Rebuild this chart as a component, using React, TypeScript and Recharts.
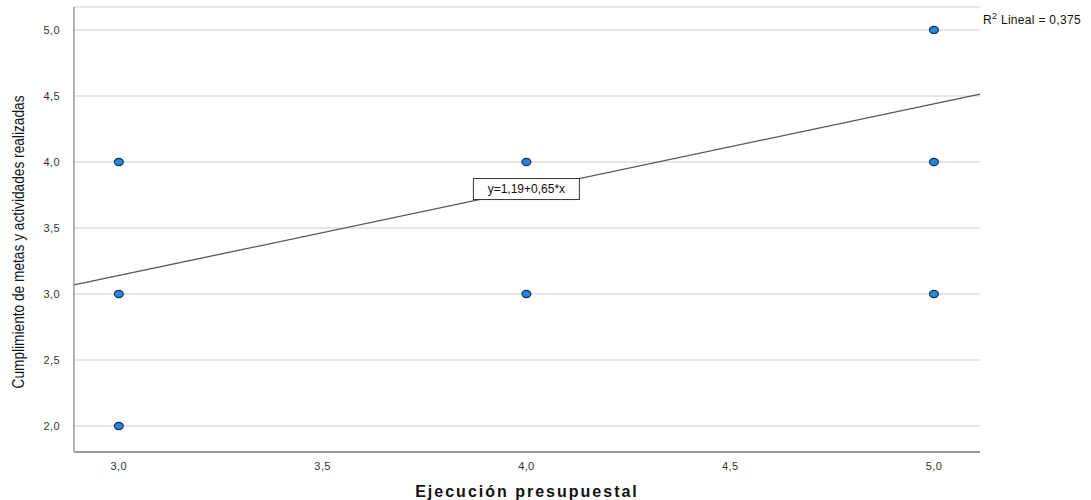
import React from 'react';
import { ScatterChart, Scatter, XAxis, YAxis, CartesianGrid, ReferenceLine, ReferenceDot } from 'recharts';

const xValues = [3, 3, 3, 4, 4, 5, 5, 5];
const yValues = [4, 3, 2, 4, 3, 5, 4, 3];
const xTicks = [3, 3.5, 4, 4.5, 5];
const yTicks = [2, 2.5, 3, 3.5, 4, 4.5, 5];
const intercept = 1.19;
const slope = 0.65;
const rSquared = '0,375';
const xDomain: [number, number] = [2.89, 5.113];
const yDomain: [number, number] = [1.803, 5.174];

const points = xValues.map((x, i) => ({ x, y: yValues[i] }));
const fmt = (v: number) => v.toFixed(1).replace('.', ',');

const Dot = (props: any) => {
  const { cx, cy } = props;
  return <ellipse cx={cx} cy={cy} rx={4.5} ry={3.6} fill="#1e88dc" stroke="#1b2a44" strokeWidth={1.1} />;
};

const EqLabel = (props: any) => {
  const { cx, cy } = props;
  return (
    <g>
      <rect x={cx - 53} y={cy - 10.5} width={106} height={21} fill="#ffffff" stroke="#333" strokeWidth={1} />
      <text x={cx} y={cy + 4} textAnchor="middle" fontFamily="Arial, 'Liberation Sans', sans-serif" fontSize={12} fill="#111">
        y=1,19+0,65*x
      </text>
    </g>
  );
};

export default function App() {
  return (
    <div style={{ position: 'absolute', left: 0, top: 0, width: 1091, height: 500, background: '#fff' }}>
      <ScatterChart width={1091} height={500} margin={{ top: 7, right: 111, left: 0, bottom: 0 }}>
        <CartesianGrid vertical={false} stroke="#cfcfcf" strokeWidth={1} />
        <XAxis
          type="number"
          dataKey="x"
          domain={xDomain}
          ticks={xTicks}
          tickFormatter={fmt}
          height={48}
          tickLine={false}
          axisLine={{ stroke: '#9a9a9a', strokeWidth: 2 }}
          tick={{ fontSize: 11, fill: '#333', fontFamily: 'Arial, "Liberation Sans", sans-serif', letterSpacing: 0.4 }}
          tickMargin={4}
          allowDataOverflow
        />
        <YAxis
          type="number"
          dataKey="y"
          domain={yDomain}
          ticks={yTicks}
          tickFormatter={fmt}
          width={74}
          tickLine={false}
          axisLine={{ stroke: '#9a9a9a', strokeWidth: 1.5 }}
          tick={{ fontSize: 11, fill: '#333', fontFamily: 'Arial, "Liberation Sans", sans-serif', letterSpacing: 0.4 }}
          tickMargin={8}
          allowDataOverflow
        />
        <ReferenceLine
          segment={[
            { x: xDomain[0], y: intercept + slope * xDomain[0] },
            { x: xDomain[1], y: intercept + slope * xDomain[1] },
          ]}
          stroke="#555"
          strokeWidth={1.3}
          ifOverflow="visible"
        />
        <Scatter data={points} shape={<Dot />} isAnimationActive={false} />
        <ReferenceDot x={4} y={3.795} shape={<EqLabel />} ifOverflow="visible" />
      </ScatterChart>
      <svg width={1091} height={500} style={{ position: 'absolute', left: 0, top: 0, pointerEvents: 'none' }}>
        <text x={983} y={24} fontFamily="Arial, 'Liberation Sans', sans-serif" fontSize={12} letterSpacing={0.3} fill="#111">
          R<tspan dy={-5} fontSize={9}>2</tspan><tspan dy={5}> Lineal = {rSquared}</tspan>
        </text>
        <text
          transform="translate(24,242) rotate(-90)"
          textAnchor="middle"
          fontFamily="'Liberation Sans Narrow', 'Arial Narrow', Arial, 'Liberation Sans', sans-serif"
          fontSize={16}
          textLength={293}
          lengthAdjust="spacingAndGlyphs"
          fill="#111"
        >
          Cumplimiento de metas y actividades realizadas
        </text>
        <text x={527} y={497} textAnchor="middle" fontFamily="Arial, 'Liberation Sans', sans-serif" fontSize={16} fontWeight="bold" letterSpacing={2} fill="#111">
          Ejecución presupuestal
        </text>
      </svg>
    </div>
  );
}
